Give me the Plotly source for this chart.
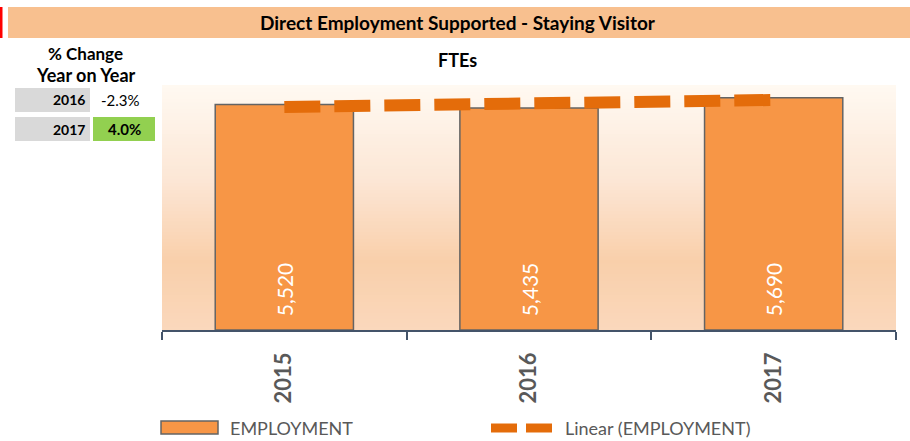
import numpy as np
import plotly.graph_objects as go

# ---- data ----
years = ["2015", "2016", "2017"]
employment = [5520, 5435, 5690]
change_years = ["2016", "2017"]
change_labels = ["-2.3%", "4.0%"]

title_text = "Direct Employment Supported - Staying Visitor"
subtitle_text = "FTEs"

# ---- geometry of the figure (pixels) ----
FIG_W, FIG_H = 910, 441
PL, PR, PT, PB = 162, 896, 85, 330   # plot area edges
PW, PH = PR - PL, PB - PT
Y_MAX = 6000

FONT = "Lato"
BAR_FILL = "#F79646"
BAR_LINE = "#646464"
TREND = "#E46C0A"
TXT_GRAY = "#595959"


def px(x):
    return (x - PL) / PW


def py(y):
    return (PB - y) / PH


# least-squares linear trend over the series
xi = np.arange(1, len(employment) + 1)
slope, intercept = np.polyfit(xi, employment, 1)
trend = slope * xi + intercept

fig = go.Figure()
fig.add_trace(go.Bar(
    x=years, y=employment,
    marker=dict(color=BAR_FILL, line=dict(color=BAR_LINE, width=1.5)),
    width=0.565, hoverinfo="skip", showlegend=False,
    # value reads upward from the base of each bar
    texttemplate="\u00a0\u00a0%{y:,}", textposition="inside",
    insidetextanchor="start", textangle=-90,
    insidetextfont=dict(family=FONT, size=21, color="#FFFFFF"),
    cliponaxis=False,
))
fig.add_trace(go.Scatter(
    x=years, y=trend, mode="lines",
    line=dict(color=TREND, width=12, dash="36px,14px"),
    hoverinfo="skip", showlegend=False,
))

shapes = []

# vertical gradient behind the bars
stops = [(0.0, (255, 249, 242)), (0.4, (252, 230, 212)),
         (0.72, (249, 207, 170)), (1.0, (250, 216, 188))]


def grad_color(t):
    for (t0, c0), (t1, c1) in zip(stops[:-1], stops[1:]):
        if t0 <= t <= t1:
            f = (t - t0) / (t1 - t0)
            return "rgb(%d,%d,%d)" % tuple(round(a + (b - a) * f) for a, b in zip(c0, c1))
    return "rgb(%d,%d,%d)" % stops[-1][1]


N = 70
for i in range(N):
    t = (i + 0.5) / N
    shapes.append(dict(
        type="rect", xref="paper", yref="paper", layer="below",
        x0=0, x1=1, y0=1 - (i + 1) / N - 0.002, y1=1 - i / N,
        fillcolor=grad_color(t), line=dict(width=0),
    ))

# title banner with red accent
shapes.append(dict(type="rect", xref="paper", yref="paper",
                   x0=px(8), x1=px(910), y0=py(38), y1=py(7),
                   fillcolor="#F8C08F", line=dict(width=0)))
shapes.append(dict(type="rect", xref="paper", yref="paper",
                   x0=px(0), x1=px(2.5), y0=py(38), y1=py(7),
                   fillcolor="#FF0000", line=dict(width=0)))

# % change table cells
row_tops = [88, 117]
row_h = 24
for i, top in enumerate(row_tops):
    shapes.append(dict(type="rect", xref="paper", yref="paper",
                       x0=px(15), x1=px(90), y0=py(top + row_h), y1=py(top),
                       fillcolor="#D9D9D9", line=dict(width=0)))
shapes.append(dict(type="rect", xref="paper", yref="paper",
                   x0=px(93), x1=px(155), y0=py(row_tops[1] + row_h), y1=py(row_tops[1]),
                   fillcolor="#92D050", line=dict(width=0)))

# legend swatches
shapes.append(dict(type="rect", xref="paper", yref="paper",
                   x0=px(161), x1=px(218), y0=py(434), y1=py(421),
                   fillcolor=BAR_FILL, line=dict(color=BAR_LINE, width=1.5)))
for a, b in [(491, 517), (526, 552)]:
    shapes.append(dict(type="line", xref="paper", yref="paper",
                       x0=px(a), x1=px(b), y0=py(428), y1=py(428),
                       line=dict(color=TREND, width=9)))

annotations = []


def label(text, x, y, size, color="#000000", bold=False, xanchor="center", yanchor="middle"):
    annotations.append(dict(
        text=f"<b>{text}</b>" if bold else text,
        xref="paper", yref="paper", x=px(x), y=py(y),
        xanchor=xanchor, yanchor=yanchor, showarrow=False,
        font=dict(family=FONT, size=size, color=color),
    ))


label(title_text, 458, 22, 19, bold=True)
label(subtitle_text, 457, 60, 18, bold=True)
label("% Change", 85, 53, 17, bold=True)
label("Year on Year", 86, 75, 18, bold=True)
for i, (yr, ch) in enumerate(zip(change_years, change_labels)):
    yc = row_tops[i] + row_h / 2
    label(yr, 87, yc, 14, bold=True, xanchor="right")
    if i == 1:
        label(ch, 124, yc, 15, bold=True)
    else:
        label(ch, 120, yc, 15)

label("EMPLOYMENT", 228, 428, 18, color=TXT_GRAY, xanchor="left")
label("Linear (EMPLOYMENT)", 563, 428, 18, color=TXT_GRAY, xanchor="left")

fig.update_layout(
    width=FIG_W, height=FIG_H,
    margin=dict(l=PL, r=FIG_W - PR, t=PT, b=FIG_H - PB),
    paper_bgcolor="#FFFFFF", plot_bgcolor="rgba(0,0,0,0)",
    shapes=shapes, annotations=annotations,
    showlegend=False, uniformtext=dict(minsize=8, mode="show"),
    xaxis=dict(
        type="category", range=[-0.5, 2.5],
        showline=True, linecolor="#44546A", linewidth=1.5,
        ticks="outside", tickson="boundaries", ticklen=8, tickwidth=1.5,
        tickcolor="#44546A", tickangle=-90,
        tickfont=dict(family=FONT, size=22, color=TXT_GRAY),
        ticklabelstandoff=12, showgrid=False, zeroline=False,
    ),
    yaxis=dict(range=[0, Y_MAX], visible=True, showticklabels=False,
               showline=False, ticks="", showgrid=False, zeroline=False),
)
fig.update_xaxes(ticktext=[f"<b>{y}</b>" for y in years], tickvals=years)

fig.write_html("out.html")
